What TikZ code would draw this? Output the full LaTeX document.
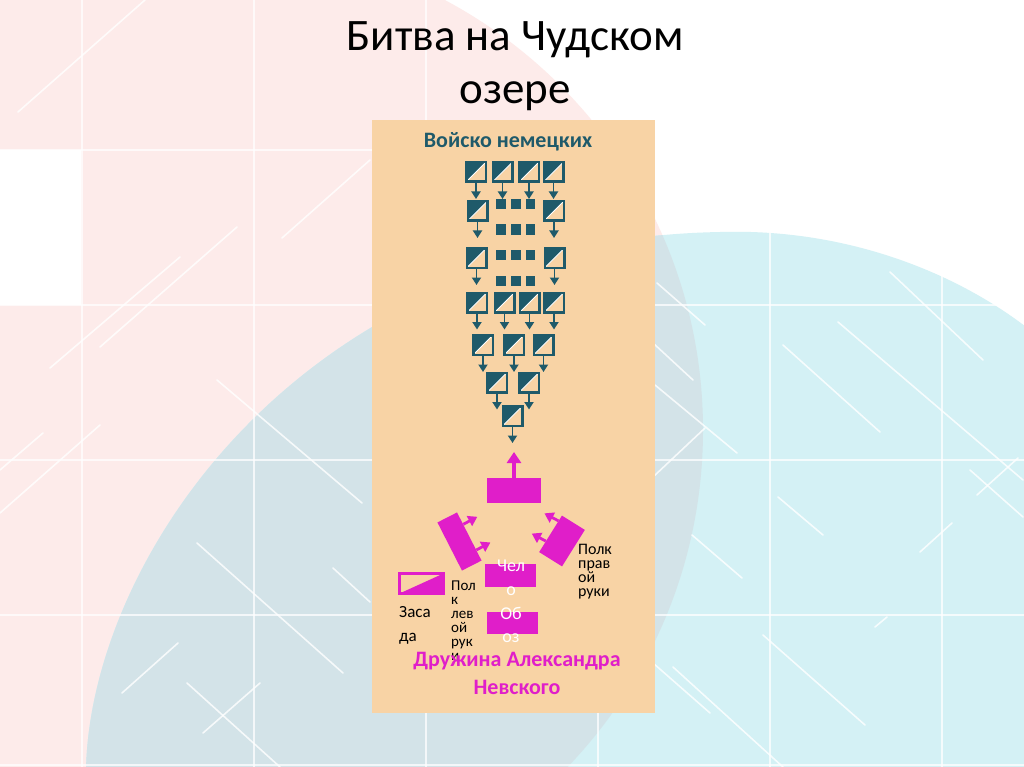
\documentclass[tikz,border=0pt]{standalone}
\usepackage{fontspec}
\setmainfont{Carlito}
\usetikzlibrary{arrows.meta,calc}
\definecolor{pinkbg}{HTML}{FDEBEA}
\definecolor{cyanbg}{HTML}{D4F1F5}
\definecolor{greybg}{HTML}{D3E3E8}
\definecolor{peach}{HTML}{F8D3A5}
\definecolor{armyteal}{HTML}{1F5A6A}
\definecolor{rusmag}{HTML}{E01EC9}
\tikzset{
  bgline/.style={white, line width=1.6pt, opacity=0.8, line cap=round},
  gridline/.style={white, line width=1.2pt, opacity=0.75},
  armysq/.style={draw=armyteal, line width=2.5pt, minimum size=19.5pt, inner sep=0pt,
    path picture={\fill[armyteal] (path picture bounding box.north west) -- (path picture bounding box.north east) -- (path picture bounding box.south west) -- cycle;
      \draw[white, line width=0.8pt] (path picture bounding box.south west) -- (path picture bounding box.north east);}},
  smallsq/.style={fill=armyteal, minimum width=9.5pt, minimum height=10.5pt, inner sep=0pt},
  tarrow/.style={draw=armyteal, line width=1.8pt, -{Triangle[width=9pt,length=7.5pt]}},
  magbox/.style={fill=rusmag, inner sep=0pt},
  magarrow/.style={draw=rusmag, line width=4pt, -{Triangle[width=14pt,length=11pt]}},
  sidearrow/.style={draw=rusmag, line width=2.8pt, -{Triangle[width=11pt,length=9pt]}},
  blacklabel/.style={align=left, inner sep=0pt, anchor=north west, text=black},
}
\begin{document}
\begin{tikzpicture}[x=1pt,y=-1pt]
\useasboundingbox (0,0) rectangle (1024,767);
\begin{scope}
\clip (0,0) rectangle (1024,767);
\fill[white] (0,0) rectangle (1024,767);
\fill[pinkbg] (216,430) circle (487);
\fill[white] (0,150) rectangle (81,305);
\fill[cyanbg] (86,770) .. controls (90,560) and (300,240) .. (720,232) .. controls (850,228) and (960,275) .. (1030,330) -- (1030,770) -- cycle;
\begin{scope}
\clip (216,430) circle (487);
\fill[greybg] (86,770) .. controls (90,560) and (300,240) .. (720,232) .. controls (850,228) and (960,275) .. (1030,330) -- (1030,770) -- cycle;
\end{scope}
% grid
\foreach \gx in {82,254,426,598,770,942} \draw[gridline] (\gx,0) -- (\gx,767);
\foreach \gy in {150,305,460,615,765} \draw[gridline] (0,\gy) -- (1024,\gy);
% strokes
\foreach \ax/\ay/\bx/\by in {145/0/18/112, 370/160/282/238, 237/227/100/347, 180/257/50/368,
  43/433/0/470, 100/425/0/513, 217/380/362/503, 197/543/343/673, 333/568/370/602,
  178/643/122/693, 187/683/280/767, 260/683/203/733,
  657/283/705/325, 653/343/693/380, 655/385/737/453, 705/428/653/477,
  890/272/983/360, 838/322/1023/480, 783/345/880/432, 1018/458/977/495, 970/470/1023/517,
  778/497/823/535, 952/523/920/552, 692/535/742/578, 887/617/875/627, 763/635/865/725,
  653/663/710/713, 673/667/783/767}
  \draw[bgline] (\ax,\ay) -- (\bx,\by);
\end{scope}
% title
\node[anchor=base, font=\fontsize{45}{54}\selectfont] (title1) at (515,51) {Битва на Чудском};
\node[anchor=base, font=\fontsize{45}{54}\selectfont] (title2) at (515,104) {озере};
% panel
\node[fill=peach, minimum width=283pt, minimum height=593pt, inner sep=0pt, anchor=north west] (panel) at (372,120) {};
\node[anchor=base, font=\fontsize{22}{26}\selectfont\bfseries, text=armyteal] (german) at (508,148) {Войско немецких};
% german army
\foreach \n/\x/\y in {1/476/172, 2/502.5/172, 3/529/172, 4/553.5/172, 5/477.5/211, 6/554/211,
  7/476.5/258, 8/554.5/258, 9/477/302.5, 10/504.5/302.5, 11/529.5/302.5, 12/554/302.5,
  13/483/345, 14/514/345, 15/543.5/345, 16/497/382.5, 17/529/382.5, 18/512.5/416}{
  \node[armysq] (s\n) at (\x,\y) {};
  \coordinate (t\n) at ($(s\n.south)+(0,16)$);
  \draw[tarrow] (s\n.south) -- (t\n);
}
\foreach \n/\x/\y in {1/501/204, 2/516/204, 3/530.5/204, 4/501/229.5, 5/516/229.5, 6/530.5/229.5,
  7/501/255, 8/516/255, 9/530.5/255, 10/501/281, 11/516/281, 12/530.5/281}{
  \node[smallsq] (q\n) at (\x,\y) {};
}
% russian army
\node[magbox, minimum width=54pt, minimum height=25pt] (front) at (514,490.5) {};
\coordinate (fronttip) at (514,452);
\draw[magarrow] (front.north) -- (fronttip);
\node[magbox, minimum width=54pt, minimum height=22pt, rotate=-63] (leftp) at (459.5,541.5) {};
\coordinate (la1) at ($(leftp.north west)!0.25!(leftp.north east)$);
\coordinate (la2) at ($(leftp.north west)!0.78!(leftp.north east)$);
\coordinate (lt1) at ($(la1)+(14,-7.5)$);
\coordinate (lt2) at ($(la2)+(14,-7.5)$);
\draw[sidearrow] (la1) -- (lt1);
\draw[sidearrow] (la2) -- (lt2);
\node[magbox, minimum width=43pt, minimum height=27pt, rotate=58] (rightp) at (562,541) {};
\coordinate (ra1) at ($(rightp.north west)!0.3!(rightp.north east)$);
\coordinate (ra2) at ($(rightp.north west)!0.85!(rightp.north east)$);
\coordinate (rt1) at ($(ra1)+(-14,-7.5)$);
\coordinate (rt2) at ($(ra2)+(-14,-7.5)$);
\draw[sidearrow] (ra1) -- (rt1);
\draw[sidearrow] (ra2) -- (rt2);
\node[magbox, minimum width=51pt, minimum height=23pt] (chelo) at (510.5,575.5) {};
\node[magbox, minimum width=51pt, minimum height=22pt] (oboz) at (512.5,623) {};
\node[align=center, text=white, inner sep=0pt, font=\fontsize{18}{23.5}\selectfont] (chelotext) at (511,578) {Чел\\о};
\node[align=center, text=white, inner sep=0pt, font=\fontsize{18}{23.5}\selectfont] (oboztext) at (511,625) {Об\\оз};
\node[draw=rusmag, line width=3pt, minimum width=44pt, minimum height=20pt, inner sep=0pt,
  path picture={\fill[rusmag] (path picture bounding box.south west) -- (path picture bounding box.north east) -- (path picture bounding box.south east) -- cycle;}] (zasada) at (421.5,583.5) {};
\node[blacklabel, font=\fontsize{17}{24}\selectfont] (zasadatext) at (399,606) {Заса\\да};
\node[blacklabel, font=\fontsize{15}{14}\selectfont] (lefttext) at (451,581) {Пол\\к\\лев\\ой\\рук\\и};
\node[blacklabel, font=\fontsize{16}{14}\selectfont] (righttext) at (578,544) {Полк\\прав\\ой\\руки};
\node[anchor=base, font=\fontsize{22}{26}\selectfont\bfseries, text=rusmag] (druzhina1) at (517,666) {Дружина Александра};
\node[anchor=base, font=\fontsize{22}{26}\selectfont\bfseries, text=rusmag] (druzhina2) at (517,694) {Невского};
\end{tikzpicture}
\end{document}
